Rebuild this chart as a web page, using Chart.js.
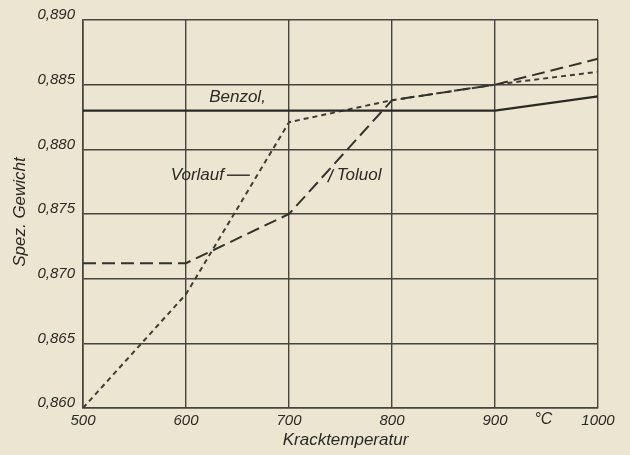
<!DOCTYPE html>
<html>
<head>
<meta charset="utf-8">
<script src="https://cdn.jsdelivr.net/npm/chart.js@4/dist/chart.umd.min.js"></script>
<style>
  html, body { margin: 0; padding: 0; background: #ece5d1; }
  #wrap { width: 630px; height: 455px; }
</style>
</head>
<body>
<div id="wrap"><canvas id="chart" width="630" height="455"></canvas></div>
<script>
// Kracktemperatur (°C)
var temps = [500, 600, 700, 800, 900, 1000];
// spez. Gewicht
var benzol = [0.883, 0.883, 0.883, 0.883, 0.883, 0.8841];
var toluol = [0.8712, 0.8712, 0.875, 0.8838, 0.885, 0.887];
var vorlauf = [0.860, 0.8688, 0.8821, 0.8838, 0.885, 0.886];
var yTicks = [0.860, 0.865, 0.870, 0.875, 0.880, 0.885, 0.890];

var ink = "#2a2a24";
var fontFam = "'Liberation Sans', 'DejaVu Sans', sans-serif";

function toPoints(ys) {
  return temps.map(function (t, i) { return { x: t, y: ys[i] }; });
}

// labels written onto the plot, like in the original figure
var notes = [
  { text: "Benzol,", x: 650, y: 0.8840, size: 17 },
  { text: "Vorlauf", x: 611, y: 0.8780, size: 17, dashTo: 662 },
  { text: "Toluol", x: 768, y: 0.8780, size: 17, tickFrom: true },
  { text: "°C", x: 947, y: null, size: 16 }
];

var notePlugin = {
  id: "notes",
  afterDatasetsDraw: function (chart) {
    var ctx = chart.ctx;
    var xs = chart.scales.x, ys = chart.scales.y;
    ctx.save();
    ctx.fillStyle = ink;
    ctx.strokeStyle = ink;
    ctx.textBaseline = "middle";
    notes.forEach(function (n) {
      ctx.font = "italic " + n.size + "px " + fontFam;
      var px = xs.getPixelForValue(n.x);
      var py = n.y === null ? chart.chartArea.bottom + 12 : ys.getPixelForValue(n.y);
      ctx.textAlign = "center";
      ctx.fillText(n.text, px, py);
      var w = ctx.measureText(n.text).width;
      if (n.dashTo) {
        ctx.lineWidth = 1.4;
        ctx.beginPath();
        ctx.moveTo(px + w / 2 + 3, py);
        ctx.lineTo(xs.getPixelForValue(n.dashTo), py);
        ctx.stroke();
      }
      if (n.tickFrom) {
        ctx.lineWidth = 1.4;
        ctx.beginPath();
        ctx.moveTo(px - w / 2 - 9, py + 7);
        ctx.lineTo(px - w / 2 - 3, py - 6);
        ctx.stroke();
      }
    });
    // axis titles
    ctx.font = "italic 17px " + fontFam;
    ctx.textAlign = "center";
    ctx.fillText("Kracktemperatur", (chart.chartArea.left + chart.chartArea.right) / 2 + 5, 440);
    ctx.translate(20, 212);
    ctx.rotate(-Math.PI / 2);
    ctx.fillText("Spez. Gewicht", 0, 0);
    ctx.restore();
  }
};

var ctx = document.getElementById("chart").getContext("2d");
var chart = new Chart(ctx, {
  type: "line",
  data: {
    datasets: [
      {
        label: "Benzol",
        data: toPoints(benzol),
        borderColor: ink,
        borderWidth: 2.2,
        pointRadius: 0,
        fill: false,
        tension: 0
      },
      {
        label: "Toluol",
        data: toPoints(toluol),
        borderColor: "#33332c",
        borderWidth: 2,
        borderDash: [13, 6],
        pointRadius: 0,
        fill: false,
        tension: 0
      },
      {
        label: "Vorlauf",
        data: toPoints(vorlauf),
        borderColor: "#3d3d36",
        borderWidth: 2,
        borderDash: [5, 4],
        pointRadius: 0,
        fill: false,
        tension: 0
      }
    ]
  },
  options: {
    responsive: false,
    animation: false,
    layout: { padding: { left: 0, right: 32, top: 20, bottom: 0 } },
    plugins: {
      legend: { display: false },
      tooltip: { enabled: false }
    },
    scales: {
      x: {
        type: "linear",
        min: 500,
        max: 1000,
        ticks: {
          stepSize: 100,
          color: ink,
          padding: 4,
          font: { family: fontFam, style: "italic", size: 15 },
          callback: function (v) { return String(v); }
        },
        grid: { color: "#45453d", lineWidth: 1.4, drawTicks: false },
        border: { color: "#45453d", width: 1.6 },
        afterFit: function (s) { s.height = 47; }
      },
      y: {
        min: 0.860,
        max: 0.890,
        afterBuildTicks: function (s) {
          s.ticks = yTicks.map(function (v) { return { value: v }; });
        },
        ticks: {
          color: ink,
          padding: 8,
          labelOffset: -5,
          font: { family: fontFam, style: "italic", size: 15 },
          callback: function (v) { return v.toFixed(3).replace(".", ","); }
        },
        grid: { color: "#45453d", lineWidth: 1.4, drawTicks: false },
        border: { color: "#45453d", width: 1.6 },
        afterFit: function (s) { s.width = 83; }
      }
    }
  },
  plugins: [notePlugin]
});
</script>
</body>
</html>
